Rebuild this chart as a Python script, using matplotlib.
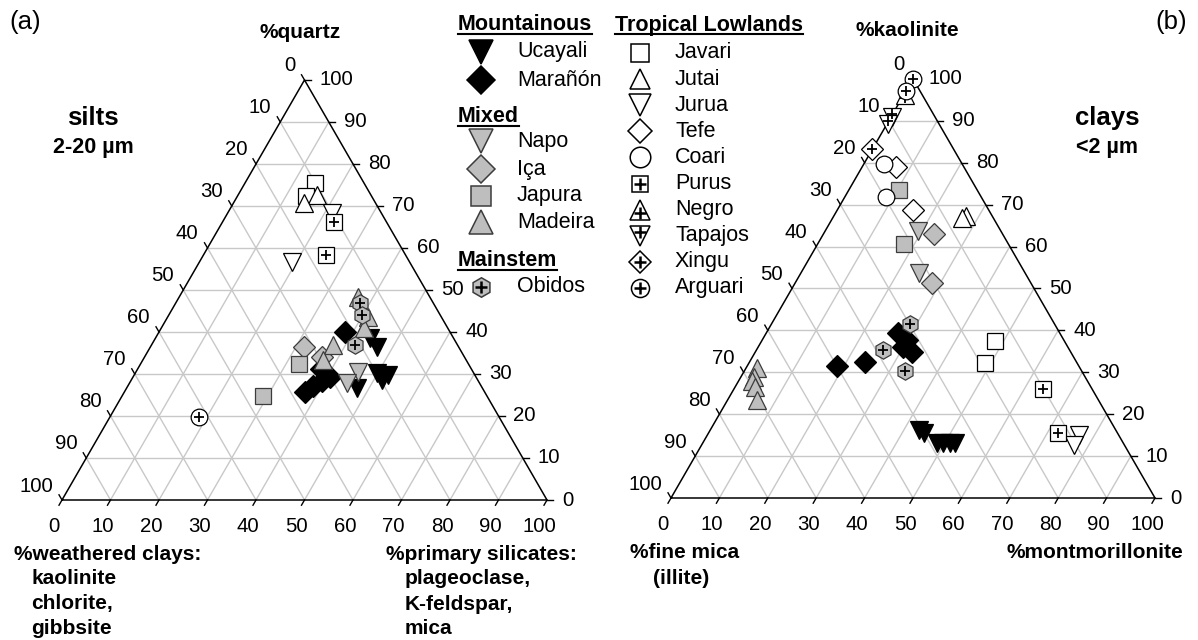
import numpy as np
import matplotlib
matplotlib.use("Agg")
import matplotlib.pyplot as plt
from matplotlib.transforms import ScaledTranslation

plt.rcParams['font.family'] = ['Liberation Sans', 'DejaVu Sans']

# ---------------- data ----------------
tick_values = list(range(0, 101, 10))

# (a) silts: quartz % (top) and primary silicates % (bottom-right)
silt_ucayali_quartz = [38.5, 36.5, 30.2, 29.8, 28.6, 26.6]
silt_ucayali_primary = [44.2, 46.8, 49.8, 52.4, 51.6, 47.5]
silt_maranon_quartz = [40.1, 31.2, 29.3, 28.3, 27.1, 25.7]
silt_maranon_primary = [38.3, 37.8, 40.6, 39.5, 38.2, 37.3]
silt_napo_quartz = [30.4, 27.8]
silt_napo_primary = [45.9, 44.9]
silt_ica_quartz = [36.5, 34.1]
silt_ica_primary = [31.6, 36.5]
silt_japura_quartz = [32.3, 24.8]
silt_japura_primary = [32.8, 29.1]
silt_madeira_quartz = [48.4, 43.6, 41.0, 36.9, 33.3]
silt_madeira_primary = [36.9, 41.3, 41.8, 37.5, 37.2]
silt_obidos_quartz = [46.8, 44.0, 36.9]
silt_obidos_primary = [38.0, 39.8, 42.0]
silt_javari_quartz = [75.5, 72.4]
silt_javari_primary = [14.4, 14.1]
silt_jutai_quartz = [72.6, 70.6]
silt_jutai_primary = [16.2, 14.6]
silt_jurua_quartz = [68.3, 56.7]
silt_jurua_primary = [21.5, 19.0]
silt_purus_quartz = [66.3, 58.3]
silt_purus_primary = [23.0, 25.3]
silt_arguari_quartz = [19.7]
silt_arguari_primary = [18.5]

# (b) clays: kaolinite % (top) and montmorillonite % (bottom-right)
clay_ucayali_kaol = [16.2, 15.5, 13.1, 13.1, 13.1, 13.2]
clay_ucayali_mont = [43.2, 44.5, 48.4, 49.7, 51.1, 52.1]
clay_maranon_kaol = [39.3, 37.7, 36.1, 34.9, 32.4, 31.5]
clay_maranon_mont = [27.3, 29.9, 29.9, 32.3, 23.9, 18.5]
clay_napo_kaol = [63.6, 53.6]
clay_napo_mont = [19.3, 24.4]
clay_ica_kaol = [62.9, 51.4]
clay_ica_mont = [22.9, 28.2]
clay_japura_kaol = [73.5, 60.5]
clay_japura_mont = [10.4, 17.9]
clay_madeira_kaol = [31.0, 28.9, 28.0, 26.6, 23.4]
clay_madeira_mont = [2.2, 2.7, 2.8, 4.1, 6.0]
clay_obidos_kaol = [41.5, 35.3, 30.3]
clay_obidos_mont = [28.6, 26.2, 33.3]
clay_javari_kaol = [37.5, 32.3]
clay_javari_mont = [48.2, 48.7]
clay_jutai_kaol = [67.3, 66.8]
clay_jutai_mont = [27.4, 26.7]
clay_jurua_kaol = [15.0, 12.6]
clay_jurua_mont = [76.7, 77.0]
clay_tefe_kaol = [78.9, 68.7]
clay_tefe_mont = [7.0, 15.6]
clay_coari_kaol = [79.7, 71.7]
clay_coari_mont = [4.2, 8.5]
clay_purus_kaol = [26.0, 15.6]
clay_purus_mont = [63.8, 72.2]
clay_negro_kaol = [96.2]
clay_negro_mont = [0.3]
clay_tapajos_kaol = [91.0, 89.2]
clay_tapajos_mont = [0.2, 0.3]
clay_xingu_kaol = [83.2]
clay_xingu_mont = [0.0]
clay_arguari_kaol = [100.0, 97.0]
clay_arguari_mont = [0.0, 0.0]

group_headers = ['Mountainous', 'Mixed', 'Mainstem', 'Tropical Lowlands']
river_names = ['Ucayali', 'Marañón', 'Napo', 'Iça', 'Japura', 'Madeira', 'Obidos',
               'Javari', 'Jutai', 'Jurua', 'Tefe', 'Coari', 'Purus', 'Negro',
               'Tapajos', 'Xingu', 'Arguari']

# ---------------- styles ----------------
BLACK, GREY, GEDGE, WHITE = 'black', '#bebebe', '#3c3c3c', 'white'
# name: (marker, face, edge, has_plus)
style = {
    'Ucayali': ('v', BLACK, BLACK, False),
    'Marañón': ('D', BLACK, BLACK, False),
    'Napo': ('v', GREY, GEDGE, False),
    'Iça': ('D', GREY, GEDGE, False),
    'Japura': ('s', GREY, GEDGE, False),
    'Madeira': ('^', GREY, GEDGE, False),
    'Obidos': ('h', GREY, GEDGE, True),
    'Javari': ('s', WHITE, BLACK, False),
    'Jutai': ('^', WHITE, BLACK, False),
    'Jurua': ('v', WHITE, BLACK, False),
    'Tefe': ('D', WHITE, BLACK, False),
    'Coari': ('o', WHITE, BLACK, False),
    'Purus': ('s', WHITE, BLACK, True),
    'Negro': ('^', WHITE, BLACK, True),
    'Tapajos': ('v', WHITE, BLACK, True),
    'Xingu': ('D', WHITE, BLACK, True),
    'Arguari': ('o', WHITE, BLACK, True),
}
plot_ms = {'v': 12.5, '^': 12.5, 'D': 11, 's': 11, 'o': 12, 'h': 12.5}

silt_series = {
    'Ucayali': (silt_ucayali_quartz, silt_ucayali_primary),
    'Marañón': (silt_maranon_quartz, silt_maranon_primary),
    'Napo': (silt_napo_quartz, silt_napo_primary),
    'Iça': (silt_ica_quartz, silt_ica_primary),
    'Japura': (silt_japura_quartz, silt_japura_primary),
    'Madeira': (silt_madeira_quartz, silt_madeira_primary),
    'Obidos': (silt_obidos_quartz, silt_obidos_primary),
    'Javari': (silt_javari_quartz, silt_javari_primary),
    'Jutai': (silt_jutai_quartz, silt_jutai_primary),
    'Jurua': (silt_jurua_quartz, silt_jurua_primary),
    'Purus': (silt_purus_quartz, silt_purus_primary),
    'Arguari': (silt_arguari_quartz, silt_arguari_primary),
}
clay_series = {
    'Ucayali': (clay_ucayali_kaol, clay_ucayali_mont),
    'Marañón': (clay_maranon_kaol, clay_maranon_mont),
    'Napo': (clay_napo_kaol, clay_napo_mont),
    'Iça': (clay_ica_kaol, clay_ica_mont),
    'Japura': (clay_japura_kaol, clay_japura_mont),
    'Madeira': (clay_madeira_kaol, clay_madeira_mont),
    'Obidos': (clay_obidos_kaol, clay_obidos_mont),
    'Javari': (clay_javari_kaol, clay_javari_mont),
    'Jutai': (clay_jutai_kaol, clay_jutai_mont),
    'Jurua': (clay_jurua_kaol, clay_jurua_mont),
    'Tefe': (clay_tefe_kaol, clay_tefe_mont),
    'Coari': (clay_coari_kaol, clay_coari_mont),
    'Purus': (clay_purus_kaol, clay_purus_mont),
    'Negro': (clay_negro_kaol, clay_negro_mont),
    'Tapajos': (clay_tapajos_kaol, clay_tapajos_mont),
    'Xingu': (clay_xingu_kaol, clay_xingu_mont),
    'Arguari': (clay_arguari_kaol, clay_arguari_mont),
}

# ---------------- figure ----------------
W, H = 1198, 640
fig = plt.figure(figsize=(W / 100, H / 100), dpi=100)
SQ3 = np.sqrt(3) / 2
TICKFS = 14.7


def to_xy(top, right):
    t = np.asarray(top, float) / 100.0
    r = np.asarray(right, float) / 100.0
    return r + t / 2, t * SQ3


def plus_offset(marker, ms):
    # centroid shift of triangles (points)
    if marker == '^':
        return -ms / 6.0
    if marker == 'v':
        return ms / 6.0
    return 0.0


def tern_axes(left, base, width):
    ax = fig.add_axes([left / W, (H - base) / H, width / W, width * SQ3 / H])
    ax.set_xlim(0, 1)
    ax.set_ylim(0, SQ3)
    ax.axis('off')
    gc = '#c8c8c8'
    for i in range(1, 10):
        f = i / 10
        ax.plot([f / 2, 1 - f / 2], [f * SQ3] * 2, color=gc, lw=1, zorder=1)
        ax.plot([f, f + (1 - f) / 2], [0, (1 - f) * SQ3], color=gc, lw=1, zorder=1)
        ax.plot([1 - f, (1 - f) / 2], [0, (1 - f) * SQ3], color=gc, lw=1, zorder=1)
    ax.plot([0, 1, 0.5, 0], [0, 0, SQ3, 0], color='black', lw=1.1, zorder=2,
            clip_on=False)
    L = 6.0 / width
    for v in tick_values:
        f = v / 100
        # bottom axis
        ax.plot([f, f - 0.5 * L], [0, -SQ3 * L], color='black', lw=1, clip_on=False)
        ax.annotate(str(v), (f, 0), xytext=(-8, -26), textcoords='offset pixels',
                    ha='center', va='center', fontsize=TICKFS, annotation_clip=False)
        # right axis (top component)
        x, y = 1 - f / 2, f * SQ3
        ax.plot([x, x + L], [y, y], color='black', lw=1, clip_on=False)
        ax.annotate(str(v), (x, y), xytext=(15, 0), textcoords='offset pixels',
                    ha='left', va='center', fontsize=TICKFS, annotation_clip=False)
        # left axis (bottom-left component)
        x, y = (1 - f) / 2, (1 - f) * SQ3
        ax.plot([x, x - 0.5 * L], [y, y + SQ3 * L], color='black', lw=1, clip_on=False)
        ax.annotate(str(v), (x, y), xytext=(-9, 14), textcoords='offset pixels',
                    ha='right', va='center', fontsize=TICKFS, annotation_clip=False)
    return ax


def draw_series(ax, series):
    z = 3.0
    for name in river_names:
        if name not in series:
            continue
        top, right = series[name]
        mk, fc, ec, plus = style[name]
        ms = plot_ms[mk]
        x, y = to_xy(top, right)
        ax.plot(x, y, ls='none', marker=mk, ms=ms, mfc=fc, mec=ec, mew=0.9,
                clip_on=False, zorder=z)
        z += 0.01
        if plus:
            tr = ax.transData + ScaledTranslation(0, plus_offset(mk, ms) / 72.0,
                                                  fig.dpi_scale_trans)
            ax.plot(x, y, ls='none', marker='+', ms=6.5, mec='black', mew=1.3,
                    clip_on=False, zorder=z, transform=tr)
            z += 0.01


ax_a = tern_axes(62, 500, 485)
draw_series(ax_a, silt_series)
ax_b = tern_axes(671, 498, 484)
draw_series(ax_b, clay_series)

# ---------------- overlay: titles, labels, legend ----------------
axo = fig.add_axes([0, 0, 1, 1])
axo.set_xlim(0, W)
axo.set_ylim(H, 0)
axo.axis('off')
axo.patch.set_alpha(0)

axo.text(25, 22, '(a)', fontsize=18.5, ha='center', va='center')
axo.text(1171, 22, '(b)', fontsize=18.5, ha='center', va='center')
axo.text(300, 33, '%quartz', fontsize=15, weight='bold', ha='center', va='center')
axo.text(907, 31, '%kaolinite', fontsize=15, weight='bold', ha='center', va='center')
axo.text(93, 118, 'silts', fontsize=18.5, weight='bold', ha='center', va='center')
axo.text(93, 147, '2-20 µm', fontsize=15.5, weight='bold', ha='center', va='center')
axo.text(1107, 118, 'clays', fontsize=18.5, weight='bold', ha='center', va='center')
axo.text(1107, 147, '<2 µm', fontsize=15.5, weight='bold', ha='center', va='center')

axo.text(14.5, 555, '%weathered clays:', fontsize=15, weight='bold', ha='left', va='center')
for yy, s in zip([579, 604, 629], ['kaolinite', 'chlorite,', 'gibbsite']):
    axo.text(31.4, yy, s, fontsize=15, weight='bold', ha='left', va='center')
axo.text(386.5, 555, '%primary silicates:', fontsize=15, weight='bold', ha='left', va='center')
for yy, s in zip([579, 604, 629], ['plageoclase,', 'K-feldspar,', 'mica']):
    axo.text(404.5, yy, s, fontsize=15, weight='bold', ha='left', va='center')
axo.text(629.7, 553, '%fine mica', fontsize=15, weight='bold', ha='left', va='center')
axo.text(681, 578, '(illite)', fontsize=15, weight='bold', ha='center', va='center')
axo.text(1183.5, 553, '%montmorillonite', fontsize=15, weight='bold', ha='right', va='center')

# legend
LFS = 15.5
header_pos = {'Mountainous': (458, 25), 'Mixed': (458, 117), 'Mainstem': (458, 261),
              'Tropical Lowlands': (615, 25)}
header_texts = []
for h in group_headers:
    hx, hy = header_pos[h]
    t = axo.text(hx, hy, h, fontsize=LFS, weight='bold', ha='left', va='center')
    header_texts.append((t, hy))

left_col = {'Ucayali': 52, 'Marañón': 80, 'Napo': 141, 'Iça': 169, 'Japura': 196,
            'Madeira': 222, 'Obidos': 287}
left_ms = {'v': 17.5, 'D': 14, 's': 13.7, '^': 17, 'h': 14}
right_names = river_names[7:]
right_ms = {'Javari': 13.4, 'Jutai': 15, 'Jurua': 16, 'Tefe': 11.8, 'Coari': 14.8,
            'Purus': 11, 'Negro': 15, 'Tapajos': 15, 'Xingu': 11.2, 'Arguari': 13}


def legend_entry(name, mx, tx, yy, ms):
    mk, fc, ec, plus = style[name]
    axo.plot([mx], [yy], ls='none', marker=mk, ms=ms, mfc=fc, mec=ec, mew=1.1,
             clip_on=False)
    if plus:
        tr = axo.transData + ScaledTranslation(0, plus_offset(mk, ms) / 72.0,
                                               fig.dpi_scale_trans)
        axo.plot([mx], [yy], ls='none', marker='+', ms=8.5, mec='black', mew=1.8,
                 clip_on=False, transform=tr)
    axo.text(tx, yy, name, fontsize=LFS, ha='left', va='center')


for name, yy in left_col.items():
    legend_entry(name, 481, 517, yy, left_ms[style[name][0]])
for i, name in enumerate(right_names):
    yy = 53 + 26.1 * i
    legend_entry(name, 640, 675, yy, right_ms[name])

fig.canvas.draw()
rend = fig.canvas.get_renderer()
for t, hy in header_texts:
    bb = t.get_window_extent(rend)
    axo.plot([bb.x0, bb.x1], [hy + 9, hy + 9], color='black', lw=1.5, clip_on=False)

fig.savefig('out.png', dpi=100)
